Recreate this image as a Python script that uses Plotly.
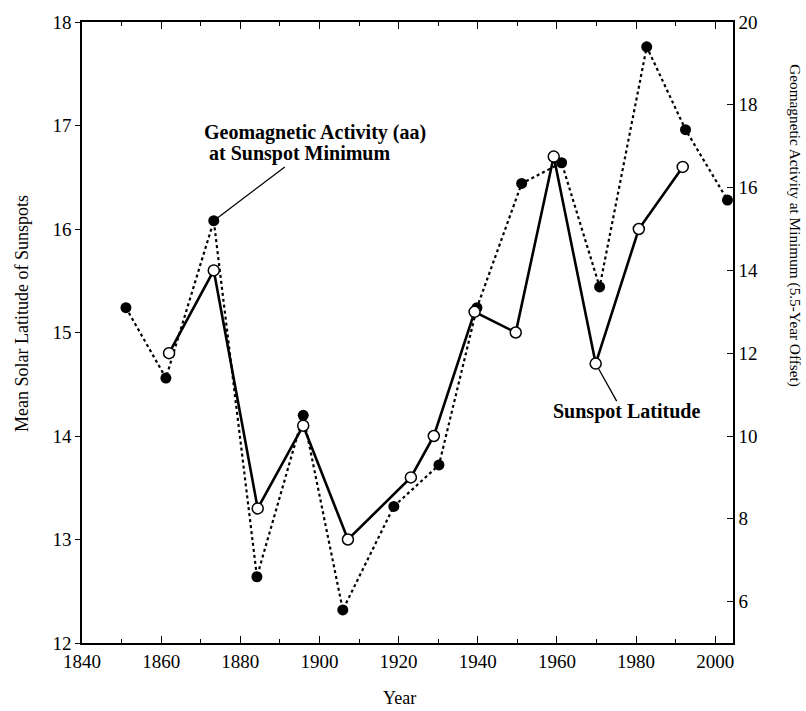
import plotly.graph_objects as go

# Sunspot latitude (open circles, solid line) - left axis
sun_years = [1862.0, 1873.3, 1884.4, 1895.9, 1907.2, 1923.1, 1928.9, 1939.2, 1949.6, 1959.2, 1969.8, 1980.7, 1991.8]
sun_lat = [14.8, 15.6, 13.3, 14.1, 13.0, 13.6, 14.0, 15.2, 15.0, 16.7, 14.7, 16.0, 16.6]

# Geomagnetic activity (aa) at sunspot minimum (filled circles, dotted line) - right axis
geo_years = [1851.1, 1861.2, 1873.3, 1884.2, 1895.9, 1905.9, 1918.8, 1930.2, 1939.8, 1951.1, 1961.2, 1970.8, 1982.7, 1992.5, 2003.1]
geo_aa = [13.1, 11.4, 15.2, 6.6, 10.5, 5.8, 8.3, 9.3, 13.1, 16.1, 16.6, 13.6, 19.4, 17.4, 15.7]

x_ticks = [1840, 1860, 1880, 1900, 1920, 1940, 1960, 1980, 2000]
left_ticks = [12, 13, 14, 15, 16, 17, 18]
right_ticks = [6, 8, 10, 12, 14, 16, 18, 20]

FONT = "Liberation Serif"

fig = go.Figure()

fig.add_trace(go.Scatter(
    x=geo_years, y=geo_aa, yaxis="y", mode="lines+markers",
    line=dict(color="black", width=2.2, dash="dot"),
    marker=dict(symbol="circle", size=11, color="black"),
    showlegend=False))

fig.add_trace(go.Scatter(
    x=sun_years, y=sun_lat, yaxis="y2", mode="lines+markers",
    line=dict(color="black", width=2.6),
    marker=dict(symbol="circle", size=11, color="white", line=dict(color="black", width=1.5)),
    showlegend=False))

axis_common = dict(showline=True, linecolor="black", linewidth=1.5, showgrid=False, zeroline=False,
                   tickcolor="black", tickfont=dict(family=FONT, size=19, color="black"))

fig.update_layout(
    width=806, height=711,
    margin=dict(l=82, r=73, t=17, b=68),
    paper_bgcolor="white", plot_bgcolor="white",
    font=dict(family=FONT, color="black"),
    xaxis=dict(range=[1840, 2004.5], tickvals=x_ticks, ticks="inside", ticklen=7, tickwidth=1.2,
               mirror="ticks", minor=dict(dtick=10, tick0=1840, ticks="inside", ticklen=4, tickcolor="black"),
               **axis_common),
    yaxis=dict(range=[5, 20], tickvals=right_ticks, side="right", ticks="inside", ticklen=6, tickwidth=1.2,
               **axis_common),
    yaxis2=dict(range=[12, 18], tickvals=left_ticks, side="left", overlaying="y", ticks="outside",
                ticklen=5, tickwidth=1.2, **axis_common),
)

ann_font = dict(family=FONT, size=18, color="black")
lab_font = dict(family=FONT, size=20, color="black")
fig.add_annotation(xref="paper", yref="paper", x=-0.092, y=0.53, xanchor="center", yanchor="middle",
                   text="Mean Solar Latitude of Sunspots",
                   textangle=-90, showarrow=False, font=ann_font)
fig.add_annotation(xref="paper", yref="paper", x=1.094, y=0.6725, xanchor="center", yanchor="middle",
                   text="Geomagnetic Activity at Minimum (5.5-Year Offset)",
                   textangle=90, showarrow=False, font=dict(family=FONT, size=15.3, color="black"))
fig.add_annotation(xref="paper", yref="paper", x=0.488, y=-0.088, xanchor="center", yanchor="middle",
                   text="Year", showarrow=False, font=ann_font)

# labels
fig.add_annotation(xref="paper", yref="paper", x=0.184, y=(643 - 128) / 626, xanchor="left", yanchor="middle",
                   text="<b>Geomagnetic Activity (aa)</b>", showarrow=False, font=lab_font)
fig.add_annotation(xref="paper", yref="paper", x=0.192, y=(643 - 150) / 626, xanchor="left", yanchor="middle",
                   text="<b>at Sunspot Minimum</b>", showarrow=False, font=lab_font)
fig.add_annotation(xref="paper", yref="paper", x=0.837, y=0.372, xanchor="center", yanchor="middle",
                   text="<b>Sunspot Latitude</b>", showarrow=False, font=lab_font)

# leader lines
fig.add_annotation(xref="x", yref="y", x=geo_years[2], y=geo_aa[2], text=" ", showarrow=True,
                   arrowhead=0, arrowwidth=1.3, arrowcolor="black", ax=74, ay=-56, standoff=5)
fig.add_annotation(xref="x", yref="y2", x=sun_years[10], y=sun_lat[10], text=" ", showarrow=True,
                   arrowhead=0, arrowwidth=1.3, arrowcolor="black", ax=24, ay=43, standoff=6)

fig.write_html("out.html")
